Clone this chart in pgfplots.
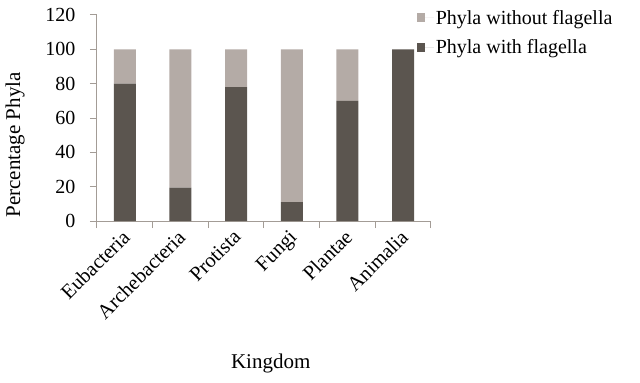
\documentclass[border=0pt]{standalone}
\usepackage{fontspec}
\setmainfont{Liberation Serif}
\usepackage{pgfplots}
\pgfplotsset{compat=1.18}
\definecolor{darkbar}{HTML}{5B554F}
\definecolor{lightbar}{HTML}{B4ABA6}
\definecolor{axisgray}{HTML}{A39C96}
\begin{document}
\begin{tikzpicture}
\useasboundingbox (-97bp,-162bp) rectangle (543bp,221bp);
\begin{axis}[
  at={(0,0)}, anchor=south west,
  scale only axis, width=334bp, height=206bp,
  font=\fontsize{20bp}{23bp}\selectfont,
  /pgf/number format/assume math mode=true,
  ybar stacked, bar width=22bp,
  xmin=-0.5, xmax=5.5, ymin=0, ymax=120,
  ytick={0,20,...,120},
  xtick={-0.5,0.5,1.5,2.5,3.5,4.5,5.5},
  xticklabels={},
  extra x ticks={0,1,2,3,4,5},
  extra x tick labels={Eubacteria,Archebacteria,Protista,Fungi,Plantae,Animalia},
  extra x tick style={major tick length=0pt, tick label style={rotate=45, anchor=north east, inner sep=1bp, yshift=-1.5bp, xshift=-7bp, font=\fontsize{20.5bp}{24bp}\selectfont}},
  axis x line*=bottom, axis y line*=left,
  tick align=outside,
  axis line style={axisgray, line width=1bp},
  tick style={axisgray, line width=1bp},
  major tick length=7bp,
  y tick label style={xshift=-11bp},
  xlabel={Kingdom},
  xlabel style={at={(axis description cs:0.52,-0.69)}, anchor=center, font=\fontsize{21bp}{24bp}\selectfont},
  ylabel={Percentage Phyla},
  ylabel style={at={(axis description cs:-0.245,0.37)}, anchor=center, rotate=0, font=\fontsize{21bp}{24bp}\selectfont},
  reverse legend,
  legend style={at={(rel axis cs:0.948,1.045)}, anchor=north west, draw=none, fill=none,
    row sep=10bp, nodes={inner sep=2bp}},
  legend cell align=left,
  legend image code/.code={\fill[#1] (0bp,-4.5bp) rectangle (8bp,4.5bp); \path (0bp,0bp) -- (17bp,0bp);},
]
\addplot[fill=darkbar, draw=none] coordinates {(0,80) (1,19.5) (2,78) (3,11) (4,70) (5,100)};
\addlegendentry{Phyla with flagella}
\addplot[fill=lightbar, draw=none] coordinates {(0,20) (1,80.5) (2,22) (3,89) (4,30) (5,0)};
\addlegendentry{Phyla without flagella}
\end{axis}
\end{tikzpicture}
\end{document}
